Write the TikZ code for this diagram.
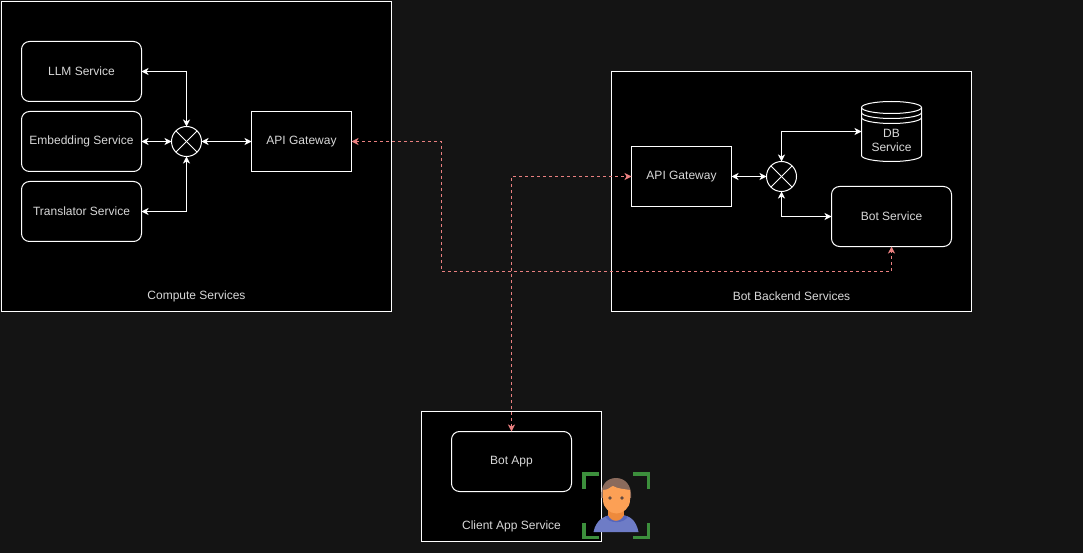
\documentclass[tikz,border=0pt]{standalone}
\usepackage{fontspec}
\setmainfont{Liberation Sans}
\usetikzlibrary{arrows.meta}
\definecolor{pagebg}{HTML}{141414}
\definecolor{linkred}{HTML}{EA8080}
\definecolor{labelgray}{HTML}{D8D8D8}
\definecolor{framegreen}{HTML}{3C8F3C}
\definecolor{hairbrown}{HTML}{8A6A5C}
\definecolor{skinorange}{HTML}{FCA055}
\definecolor{neckorange}{HTML}{EE8A3C}
\definecolor{shirtblue}{HTML}{6E7CC6}
\definecolor{collarblue}{HTML}{5566BC}
\begin{document}
\begin{tikzpicture}[
    x=1pt, y=-1pt,
    every node/.style={font=\fontsize{12}{14}\selectfont, text=labelgray, align=center, inner sep=0pt, outer sep=0pt},
    group/.style={draw=white, fill=black, line width=1pt, minimum width=#1},
    svcbox/.style={rounded corners=8pt, draw=white, fill=black, line width=1pt,
                minimum width=120pt, minimum height=60pt},
    gwbox/.style={draw=white, fill=black, line width=1pt,
                minimum width=100pt, minimum height=60pt},
    mixer/.style={circle, draw=white, fill=black, line width=1pt, minimum size=30pt},
    arr/.style={{Stealth[inset=2pt,length=7pt,width=7pt]}-{Stealth[inset=2pt,length=7pt,width=7pt]}, line width=1pt, white},
    link/.style={{Stealth[inset=2pt,length=7pt,width=7pt]}-{Stealth[inset=2pt,length=7pt,width=7pt]}, line width=1pt, linkred, dash pattern=on 3pt off 3pt},
    bracket/.style={draw=framegreen, line width=3.4pt},
  ]

  % === Page ===
  \fill[pagebg] (0,0) rectangle (1083,553);

  \begin{scope}[shift={(0.5,0.5)}]

  % === Group frames ===
  \node[group=390pt, minimum height=310pt] (compute) at (196, 156)  {};
  \node[group=360pt, minimum height=240pt] (backend) at (791, 191)  {};
  \node[group=180pt, minimum height=130pt] (client)  at (511, 476)  {};

  \node (computelbl) at (196, 295.5) {Compute Services};
  \node (backendlbl) at (791, 295.5) {Bot Backend Services};
  \node (clientlbl)  at (511, 525.5) {Client App Service};

  % === Compute services ===
  \node[svcbox] (llm)   at (81, 71)   {LLM Service};
  \node[svcbox] (embed) at (81, 141)  {Embedding Service};
  \node[svcbox] (trans) at (81, 211)  {Translator Service};
  \node[mixer]  (mixa)  at (186, 141) {};
  \node[gwbox]  (gwa)   at (301, 141) {API Gateway};

  % === Backend services ===
  \node[gwbox]  (gwb)   at (681, 176) {API Gateway};
  \node[mixer]  (mixb)  at (781, 176) {};
  \node[svcbox] (bot)   at (891, 216) {Bot Service};
  \node[minimum width=60pt, minimum height=60pt] (db) at (891, 131) {};
  \draw[white, line width=1pt, fill=black]
    (db.north west) ++(0,6) arc[start angle=180, end angle=0, x radius=30, y radius=-6]
    -- ++(0,48) arc[start angle=0, end angle=-180, x radius=30, y radius=-6] -- cycle;
  \draw[white, line width=1pt] (db.north west) ++(0,6) arc[start angle=180, end angle=360, x radius=30, y radius=-6];
  \draw[white, line width=1pt] (db.north west) ++(0,11) arc[start angle=180, end angle=360, x radius=30, y radius=-6];
  \draw[white, line width=1pt] (db.north west) ++(0,16) arc[start angle=180, end angle=360, x radius=30, y radius=-6];
  \node (dblbl) at (891, 140) {DB\\[0pt]Service};

  % === Client ===
  \node[svcbox] (app) at (511, 461) {Bot App};

  % === Mixer crosses ===
  \foreach \m in {mixa, mixb} {
    \draw[white, line width=1pt] (\m.45) -- (\m.225);
    \draw[white, line width=1pt] (\m.135) -- (\m.315);
  }

  % === Solid arrows ===
  \draw[arr] (llm.east)   -| (mixa.north);
  \draw[arr] (embed.east) -- (mixa.west);
  \draw[arr] (trans.east) -| (mixa.south);
  \draw[arr] (mixa.east)  -- (gwa.west);
  \draw[arr] (gwb.east)   -- (mixb.west);
  \draw[arr] (mixb.north) |- (db.west);
  \draw[arr] (mixb.south) |- (bot.west);

  % === Dashed links ===
  \coordinate (bend) at (441, 271);
  \draw[link] (gwa.east) -| (bend) -| (bot.south);
  \draw[link] (app.north) |- (gwb.west);

  \end{scope}

  % === User icon ===
  \draw[bracket] (599,474) -- (584,474) -- (584,489);
  \draw[bracket] (633,474) -- (648.5,474) -- (648.5,489);
  \draw[bracket] (599,537.5) -- (584,537.5) -- (584,523);
  \draw[bracket] (633,537.5) -- (648.5,537.5) -- (648.5,523);
  \fill[shirtblue] (593.5,532) .. controls (596,520) and (604,516) .. (611,515)
    -- (622,515) .. controls (630,516) and (636,520) .. (638.5,532) -- cycle;
  \fill[collarblue] (605,516.5) .. controls (609,524) and (624,524) .. (628,516.5)
    .. controls (624,515) and (609,515) .. (605,516.5) -- cycle;
  \fill[neckorange] (608,505) rectangle (624,516);
  \fill[neckorange] (608,514) .. controls (610,523) and (622,523) .. (624,514) -- cycle;
  \fill[hairbrown] (601.5,498) .. controls (600,485) and (607,478) .. (616,478)
    .. controls (625,478) and (632,485) .. (631,498) -- cycle;
  \fill[skinorange] (603,490) .. controls (609,490) and (611,486) .. (613,486)
    .. controls (618,489) and (625,489) .. (630,490)
    -- (630,500) .. controls (630,508) and (623,513.5) .. (616.5,513.5)
    .. controls (610,513.5) and (603,508) .. (603,500) -- cycle;
  \fill[hairbrown!70!black] (610,498) circle (1.8pt);
  \fill[hairbrown!70!black] (622,498) circle (1.8pt);

  \end{tikzpicture}
\end{document}
